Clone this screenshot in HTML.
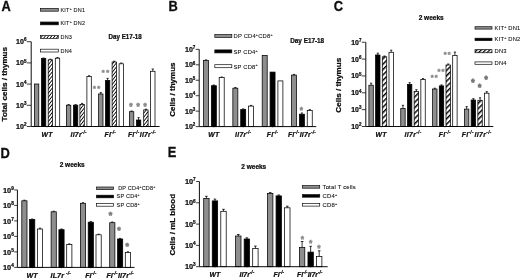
<!DOCTYPE html>
<html><head><meta charset="utf-8"><title>Figure</title>
<style>
html,body{margin:0;padding:0;background:#fff;}
body{width:520px;height:278px;overflow:hidden;}
svg{display:block;font-family:"Liberation Sans",sans-serif;fill:#0d0d0d;}
text.b{font-weight:bold;stroke:#0d0d0d;stroke-width:0.24px;}
text.r{stroke:#0d0d0d;stroke-width:0.08px;}
text.L{font-weight:bold;stroke:#0d0d0d;stroke-width:0.3px;}
text.s{font-weight:bold;}
</style></head><body>
<svg width="520" height="278" viewBox="0 0 520 278">
<defs>
<pattern id="hA" width="2.5" height="2.5" patternUnits="userSpaceOnUse" patternTransform="rotate(-52)"><rect width="2.5" height="2.5" fill="#fff"/><rect width="2.5" height="0.85" fill="#000"/></pattern>
<pattern id="hC" width="3.8" height="3.8" patternUnits="userSpaceOnUse" patternTransform="rotate(-45)"><rect width="3.8" height="3.8" fill="#fff"/><rect width="3.8" height="1.45" fill="#000"/></pattern>
<pattern id="hCl" width="3.0" height="3.0" patternUnits="userSpaceOnUse" patternTransform="rotate(-45)"><rect width="3.0" height="3.0" fill="#fff"/><rect width="3.0" height="1.3" fill="#000"/></pattern>
<filter id="bl" x="0" y="0" width="520" height="278" filterUnits="userSpaceOnUse"><feGaussianBlur stdDeviation="0.27"/></filter>
</defs>
<rect width="520" height="278" fill="#fff"/>
<g filter="url(#bl)">
<rect width="520" height="278" fill="#fff"/>

<text class="L" transform="translate(1.50 10.80) scale(0.875 1)" font-size="14.7">A</text>
<text class="b" transform="translate(4.20 84.20) rotate(-90)" text-anchor="middle" font-size="8.1" y="2.92">Total cells / thymus</text>
<rect x="34.40" y="84.00" width="4.40" height="42.50" fill="#8e8e8e" stroke="#000" stroke-width="0.75"/>
<path d="M43.60 58.60V58.00M42.50 58.00H44.70" stroke="#000" stroke-width="0.8" fill="none"/>
<rect x="41.40" y="58.60" width="4.40" height="67.90" fill="#050505" stroke="#000" stroke-width="0.75"/>
<path d="M50.40 59.80V59.20M49.30 59.20H51.50" stroke="#000" stroke-width="0.8" fill="none"/>
<rect x="48.20" y="59.80" width="4.40" height="66.70" fill="url(#hA)" stroke="#000" stroke-width="0.75"/>
<path d="M57.50 58.20V57.50M56.40 57.50H58.60" stroke="#000" stroke-width="0.8" fill="none"/>
<rect x="55.30" y="58.20" width="4.40" height="68.30" fill="#fff" stroke="#000" stroke-width="0.75"/>
<path d="M47.02 126.50v1.2" stroke="#0d0d0d" stroke-width="0.6" opacity="0.5"/>
<path d="M68.60 105.20V104.60M67.50 104.60H69.70" stroke="#000" stroke-width="0.8" fill="none"/>
<rect x="66.40" y="105.20" width="4.40" height="21.30" fill="#8e8e8e" stroke="#000" stroke-width="0.75"/>
<path d="M75.60 105.20V104.60M74.50 104.60H76.70" stroke="#000" stroke-width="0.8" fill="none"/>
<rect x="73.40" y="105.20" width="4.40" height="21.30" fill="#050505" stroke="#000" stroke-width="0.75"/>
<path d="M82.10 104.40V103.40M81.00 103.40H83.20" stroke="#000" stroke-width="0.8" fill="none"/>
<rect x="79.90" y="104.40" width="4.40" height="22.10" fill="url(#hA)" stroke="#000" stroke-width="0.75"/>
<path d="M89.10 76.60V75.80M88.00 75.80H90.20" stroke="#000" stroke-width="0.8" fill="none"/>
<rect x="86.90" y="76.60" width="4.40" height="49.90" fill="#fff" stroke="#000" stroke-width="0.75"/>
<path d="M78.67 126.50v1.2" stroke="#0d0d0d" stroke-width="0.6" opacity="0.5"/>
<path d="M100.80 94.00V92.60M99.70 92.60H101.90" stroke="#000" stroke-width="0.8" fill="none"/>
<rect x="98.60" y="94.00" width="4.40" height="32.50" fill="#8e8e8e" stroke="#000" stroke-width="0.75"/>
<path d="M107.60 80.40V78.40M106.50 78.40H108.70" stroke="#000" stroke-width="0.8" fill="none"/>
<rect x="105.40" y="80.40" width="4.40" height="46.10" fill="#050505" stroke="#000" stroke-width="0.75"/>
<path d="M114.30 62.00V61.20M113.20 61.20H115.40" stroke="#000" stroke-width="0.8" fill="none"/>
<rect x="112.10" y="62.00" width="4.40" height="64.50" fill="url(#hA)" stroke="#000" stroke-width="0.75"/>
<path d="M121.30 63.80V63.00M120.20 63.00H122.40" stroke="#000" stroke-width="0.8" fill="none"/>
<rect x="119.10" y="63.80" width="4.40" height="62.70" fill="#fff" stroke="#000" stroke-width="0.75"/>
<path d="M110.32 126.50v1.2" stroke="#0d0d0d" stroke-width="0.6" opacity="0.5"/>
<path d="M131.60 111.70V111.00M130.50 111.00H132.70" stroke="#000" stroke-width="0.8" fill="none"/>
<rect x="129.40" y="111.70" width="4.40" height="14.80" fill="#8e8e8e" stroke="#000" stroke-width="0.75"/>
<path d="M138.60 120.00V117.60M137.50 117.60H139.70" stroke="#000" stroke-width="0.8" fill="none"/>
<rect x="136.40" y="120.00" width="4.40" height="6.50" fill="#050505" stroke="#000" stroke-width="0.75"/>
<path d="M145.90 109.90V109.20M144.80 109.20H147.00" stroke="#000" stroke-width="0.8" fill="none"/>
<rect x="143.70" y="109.90" width="4.40" height="16.60" fill="url(#hA)" stroke="#000" stroke-width="0.75"/>
<path d="M152.80 71.30V69.00M151.70 69.00H153.90" stroke="#000" stroke-width="0.8" fill="none"/>
<rect x="150.60" y="71.30" width="4.40" height="55.20" fill="#fff" stroke="#000" stroke-width="0.75"/>
<path d="M141.97 126.50v1.2" stroke="#0d0d0d" stroke-width="0.6" opacity="0.5"/>
<path d="M31.20 41.70V126.50H159.60" stroke="#000" stroke-width="0.95" fill="none"/>
<path d="M26.80 126.50H31.20" stroke="#0d0d0d" stroke-width="0.8"/>
<text class="b" x="26.40" y="129.02" text-anchor="end" font-size="7.0">10<tspan font-size="4.48" dy="-2.80">2</tspan></text>
<path d="M26.80 105.30H31.20" stroke="#0d0d0d" stroke-width="0.8"/>
<text class="b" x="26.40" y="107.82" text-anchor="end" font-size="7.0">10<tspan font-size="4.48" dy="-2.80">3</tspan></text>
<path d="M26.80 84.10H31.20" stroke="#0d0d0d" stroke-width="0.8"/>
<text class="b" x="26.40" y="86.62" text-anchor="end" font-size="7.0">10<tspan font-size="4.48" dy="-2.80">4</tspan></text>
<path d="M26.80 62.90H31.20" stroke="#0d0d0d" stroke-width="0.8"/>
<text class="b" x="26.40" y="65.42" text-anchor="end" font-size="7.0">10<tspan font-size="4.48" dy="-2.80">5</tspan></text>
<path d="M26.80 41.70H31.20" stroke="#0d0d0d" stroke-width="0.8"/>
<text class="b" x="26.40" y="44.22" text-anchor="end" font-size="7.0">10<tspan font-size="4.48" dy="-2.80">6</tspan></text>
<text class="s" x="94.40" y="91.15" text-anchor="middle" font-size="7.5" fill="#8a8a8a" stroke="#8a8a8a" stroke-width="0.45">*</text>
<text class="s" x="98.70" y="91.15" text-anchor="middle" font-size="7.5" fill="#8a8a8a" stroke="#8a8a8a" stroke-width="0.45">*</text>
<text class="s" x="103.30" y="74.65" text-anchor="middle" font-size="7.5" fill="#8a8a8a" stroke="#8a8a8a" stroke-width="0.45">*</text>
<text class="s" x="107.60" y="74.65" text-anchor="middle" font-size="7.5" fill="#8a8a8a" stroke="#8a8a8a" stroke-width="0.45">*</text>
<text class="s" x="130.80" y="108.55" text-anchor="middle" font-size="8.3" fill="#8a8a8a" stroke="#8a8a8a" stroke-width="0.6">*</text>
<text class="s" x="138.00" y="108.55" text-anchor="middle" font-size="8.3" fill="#8a8a8a" stroke="#8a8a8a" stroke-width="0.6">*</text>
<text class="s" x="145.10" y="108.55" text-anchor="middle" font-size="8.3" fill="#8a8a8a" stroke="#8a8a8a" stroke-width="0.6">*</text>
<rect x="40.50" y="8.40" width="17.80" height="2.80" fill="#8e8e8e" stroke="#0d0d0d" stroke-width="0.7"/>
<text class="r" x="60.50" y="11.78" font-size="5.5" letter-spacing="0.2">KIT<tspan font-size="3.41" dy="-2.09">+</tspan><tspan dy="2.09" font-size="5.5"> DN1</tspan></text>
<rect x="40.50" y="22.00" width="17.80" height="2.80" fill="#050505" stroke="#0d0d0d" stroke-width="0.7"/>
<text class="r" x="60.50" y="25.38" font-size="5.5" letter-spacing="0.2">KIT<tspan font-size="3.41" dy="-2.09">+</tspan><tspan dy="2.09" font-size="5.5"> DN2</tspan></text>
<rect x="40.50" y="35.60" width="17.80" height="2.80" fill="url(#hA)" stroke="#0d0d0d" stroke-width="0.7"/>
<text class="r" x="60.50" y="38.98" font-size="5.5" letter-spacing="0.2">DN3</text>
<rect x="40.50" y="49.20" width="17.80" height="2.80" fill="#fff" stroke="#0d0d0d" stroke-width="0.7"/>
<text class="r" x="60.50" y="52.58" font-size="5.5" letter-spacing="0.2">DN4</text>
<text class="b" transform="translate(108.60 38.68) scale(0.9 1)" font-size="6.9">Day E17-18</text>
<text class="b" x="47.02" y="137.20" text-anchor="middle" font-style="italic" font-size="6.8" letter-spacing="0.25">WT</text>
<text class="b" x="78.67" y="137.20" text-anchor="middle" font-style="italic" font-size="6.8" letter-spacing="0.25">Il7r<tspan font-size="4.49" dy="-2.72">-/-</tspan></text>
<text class="b" x="110.32" y="137.20" text-anchor="middle" font-style="italic" font-size="6.8" letter-spacing="0.25">Fl<tspan font-size="4.49" dy="-2.72">-/-</tspan></text>
<text class="b" x="141.97" y="137.20" text-anchor="middle" font-style="italic" font-size="6.8" letter-spacing="0.25">Fl<tspan font-size="4.49" dy="-2.72">-/-</tspan><tspan dy="2.72" dx="0.3">Il7r</tspan><tspan font-size="4.49" dy="-2.72">-/-</tspan></text>
<text class="L" transform="translate(168.50 10.80) scale(0.875 1)" font-size="14.7">B</text>
<text class="b" transform="translate(172.00 89.60) rotate(-90)" text-anchor="middle" font-size="8.0" y="2.88">Cells / thymus</text>
<path d="M206.00 60.50V59.90M204.90 59.90H207.10" stroke="#000" stroke-width="0.8" fill="none"/>
<rect x="203.50" y="60.50" width="5.00" height="66.10" fill="#8e8e8e" stroke="#000" stroke-width="0.75"/>
<path d="M213.85 85.70V85.00M212.75 85.00H214.95" stroke="#000" stroke-width="0.8" fill="none"/>
<rect x="211.35" y="85.70" width="5.00" height="40.90" fill="#050505" stroke="#000" stroke-width="0.75"/>
<path d="M221.70 77.60V77.00M220.60 77.00H222.80" stroke="#000" stroke-width="0.8" fill="none"/>
<rect x="219.20" y="77.60" width="5.00" height="49.00" fill="#fff" stroke="#000" stroke-width="0.75"/>
<path d="M213.85 126.60v1.2" stroke="#0d0d0d" stroke-width="0.6" opacity="0.5"/>
<path d="M235.35 88.20V87.50M234.25 87.50H236.45" stroke="#000" stroke-width="0.8" fill="none"/>
<rect x="232.85" y="88.20" width="5.00" height="38.40" fill="#8e8e8e" stroke="#000" stroke-width="0.75"/>
<path d="M243.20 109.60V108.90M242.10 108.90H244.30" stroke="#000" stroke-width="0.8" fill="none"/>
<rect x="240.70" y="109.60" width="5.00" height="17.00" fill="#050505" stroke="#000" stroke-width="0.75"/>
<path d="M251.05 106.10V105.40M249.95 105.40H252.15" stroke="#000" stroke-width="0.8" fill="none"/>
<rect x="248.55" y="106.10" width="5.00" height="20.50" fill="#fff" stroke="#000" stroke-width="0.75"/>
<path d="M243.20 126.60v1.2" stroke="#0d0d0d" stroke-width="0.6" opacity="0.5"/>
<rect x="262.20" y="55.40" width="5.00" height="71.20" fill="#8e8e8e" stroke="#000" stroke-width="0.75"/>
<rect x="270.05" y="72.10" width="5.00" height="54.50" fill="#050505" stroke="#000" stroke-width="0.75"/>
<rect x="277.90" y="80.90" width="5.00" height="45.70" fill="#fff" stroke="#000" stroke-width="0.75"/>
<path d="M272.55 126.60v1.2" stroke="#0d0d0d" stroke-width="0.6" opacity="0.5"/>
<path d="M294.05 75.10V74.40M292.95 74.40H295.15" stroke="#000" stroke-width="0.8" fill="none"/>
<rect x="291.55" y="75.10" width="5.00" height="51.50" fill="#8e8e8e" stroke="#000" stroke-width="0.75"/>
<path d="M301.90 114.20V113.00M300.80 113.00H303.00" stroke="#000" stroke-width="0.8" fill="none"/>
<rect x="299.40" y="114.20" width="5.00" height="12.40" fill="#050505" stroke="#000" stroke-width="0.75"/>
<path d="M309.75 110.40V109.60M308.65 109.60H310.85" stroke="#000" stroke-width="0.8" fill="none"/>
<rect x="307.25" y="110.40" width="5.00" height="16.20" fill="#fff" stroke="#000" stroke-width="0.75"/>
<path d="M301.90 126.60v1.2" stroke="#0d0d0d" stroke-width="0.6" opacity="0.5"/>
<path d="M199.20 49.35V126.60H316.25" stroke="#000" stroke-width="0.95" fill="none"/>
<path d="M195.70 126.60H199.20" stroke="#0d0d0d" stroke-width="0.8"/>
<text class="b" x="195.30" y="129.12" text-anchor="end" font-size="7.0">10<tspan font-size="4.48" dy="-2.80">2</tspan></text>
<path d="M195.70 111.15H199.20" stroke="#0d0d0d" stroke-width="0.8"/>
<text class="b" x="195.30" y="113.67" text-anchor="end" font-size="7.0">10<tspan font-size="4.48" dy="-2.80">3</tspan></text>
<path d="M195.70 95.70H199.20" stroke="#0d0d0d" stroke-width="0.8"/>
<text class="b" x="195.30" y="98.22" text-anchor="end" font-size="7.0">10<tspan font-size="4.48" dy="-2.80">4</tspan></text>
<path d="M195.70 80.25H199.20" stroke="#0d0d0d" stroke-width="0.8"/>
<text class="b" x="195.30" y="82.77" text-anchor="end" font-size="7.0">10<tspan font-size="4.48" dy="-2.80">5</tspan></text>
<path d="M195.70 64.80H199.20" stroke="#0d0d0d" stroke-width="0.8"/>
<text class="b" x="195.30" y="67.32" text-anchor="end" font-size="7.0">10<tspan font-size="4.48" dy="-2.80">6</tspan></text>
<path d="M195.70 49.35H199.20" stroke="#0d0d0d" stroke-width="0.8"/>
<text class="b" x="195.30" y="51.87" text-anchor="end" font-size="7.0">10<tspan font-size="4.48" dy="-2.80">7</tspan></text>
<text class="s" x="301.30" y="113.30" text-anchor="middle" font-size="8.2" fill="#8a8a8a" stroke="#8a8a8a" stroke-width="0.55">*</text>
<rect x="214.80" y="34.50" width="17.00" height="3.00" fill="#8e8e8e" stroke="#0d0d0d" stroke-width="0.7"/>
<text class="r" x="233.50" y="38.39" font-size="5.8" letter-spacing="0.2">DP CD4<tspan font-size="3.60" dy="-2.20">+</tspan><tspan dy="2.20" font-size="5.8">CD8</tspan><tspan font-size="3.60" dy="-2.20">+</tspan><tspan dy="2.20" font-size="5.8"></tspan></text>
<rect x="214.80" y="49.90" width="17.00" height="3.00" fill="#050505" stroke="#0d0d0d" stroke-width="0.7"/>
<text class="r" x="233.50" y="53.79" font-size="5.8" letter-spacing="0.2">SP CD4<tspan font-size="3.60" dy="-2.20">+</tspan><tspan dy="2.20" font-size="5.8"></tspan></text>
<rect x="214.80" y="64.70" width="17.00" height="3.00" fill="#fff" stroke="#0d0d0d" stroke-width="0.7"/>
<text class="r" x="233.50" y="68.59" font-size="5.8" letter-spacing="0.2">SP CD8<tspan font-size="3.60" dy="-2.20">+</tspan><tspan dy="2.20" font-size="5.8"></tspan></text>
<text class="b" transform="translate(290.20 42.58) scale(0.925 1)" font-size="6.9">Day E17-18</text>
<text class="b" x="213.85" y="137.20" text-anchor="middle" font-style="italic" font-size="6.8" letter-spacing="0.25">WT</text>
<text class="b" x="243.20" y="137.20" text-anchor="middle" font-style="italic" font-size="6.8" letter-spacing="0.25">Il7r<tspan font-size="4.49" dy="-2.72">-/-</tspan></text>
<text class="b" x="272.55" y="137.20" text-anchor="middle" font-style="italic" font-size="6.8" letter-spacing="0.25">Fl<tspan font-size="4.49" dy="-2.72">-/-</tspan></text>
<text class="b" x="301.90" y="137.20" text-anchor="middle" font-style="italic" font-size="6.8" letter-spacing="0.25">Fl<tspan font-size="4.49" dy="-2.72">-/-</tspan><tspan dy="2.72" dx="0.3">Il7r</tspan><tspan font-size="4.49" dy="-2.72">-/-</tspan></text>
<text class="L" transform="translate(333.80 10.50) scale(0.875 1)" font-size="14.7">C</text>
<text class="b" transform="translate(338.50 85.20) rotate(-90)" text-anchor="middle" font-size="8.1" y="2.92">Cells / thymus</text>
<path d="M371.10 85.20V83.20M370.00 83.20H372.20" stroke="#000" stroke-width="0.8" fill="none"/>
<rect x="368.90" y="85.20" width="4.40" height="41.30" fill="#8e8e8e" stroke="#000" stroke-width="0.75"/>
<path d="M377.80 55.00V53.20M376.70 53.20H378.90" stroke="#000" stroke-width="0.8" fill="none"/>
<rect x="375.60" y="55.00" width="4.40" height="71.50" fill="#050505" stroke="#000" stroke-width="0.75"/>
<path d="M384.50 56.80V56.00M383.40 56.00H385.60" stroke="#000" stroke-width="0.8" fill="none"/>
<rect x="382.30" y="56.80" width="4.40" height="69.70" fill="url(#hC)" stroke="#000" stroke-width="0.75"/>
<path d="M391.20 52.30V50.20M390.10 50.20H392.30" stroke="#000" stroke-width="0.8" fill="none"/>
<rect x="389.00" y="52.30" width="4.40" height="74.20" fill="#fff" stroke="#000" stroke-width="0.75"/>
<path d="M381.15 126.50v1.2" stroke="#0d0d0d" stroke-width="0.6" opacity="0.5"/>
<path d="M402.95 108.60V105.30M401.85 105.30H404.05" stroke="#000" stroke-width="0.8" fill="none"/>
<rect x="400.75" y="108.60" width="4.40" height="17.90" fill="#8e8e8e" stroke="#000" stroke-width="0.75"/>
<path d="M409.65 84.40V82.70M408.55 82.70H410.75" stroke="#000" stroke-width="0.8" fill="none"/>
<rect x="407.45" y="84.40" width="4.40" height="42.10" fill="#050505" stroke="#000" stroke-width="0.75"/>
<path d="M416.35 91.50V89.70M415.25 89.70H417.45" stroke="#000" stroke-width="0.8" fill="none"/>
<rect x="414.15" y="91.50" width="4.40" height="35.00" fill="url(#hC)" stroke="#000" stroke-width="0.75"/>
<path d="M423.05 79.60V78.60M421.95 78.60H424.15" stroke="#000" stroke-width="0.8" fill="none"/>
<rect x="420.85" y="79.60" width="4.40" height="46.90" fill="#fff" stroke="#000" stroke-width="0.75"/>
<path d="M413.00 126.50v1.2" stroke="#0d0d0d" stroke-width="0.6" opacity="0.5"/>
<path d="M434.80 89.00V88.20M433.70 88.20H435.90" stroke="#000" stroke-width="0.8" fill="none"/>
<rect x="432.60" y="89.00" width="4.40" height="37.50" fill="#8e8e8e" stroke="#000" stroke-width="0.75"/>
<path d="M441.50 85.90V84.90M440.40 84.90H442.60" stroke="#000" stroke-width="0.8" fill="none"/>
<rect x="439.30" y="85.90" width="4.40" height="40.60" fill="#050505" stroke="#000" stroke-width="0.75"/>
<path d="M448.20 65.00V64.00M447.10 64.00H449.30" stroke="#000" stroke-width="0.8" fill="none"/>
<rect x="446.00" y="65.00" width="4.40" height="61.50" fill="url(#hC)" stroke="#000" stroke-width="0.75"/>
<path d="M454.90 55.40V52.10M453.80 52.10H456.00" stroke="#000" stroke-width="0.8" fill="none"/>
<rect x="452.70" y="55.40" width="4.40" height="71.10" fill="#fff" stroke="#000" stroke-width="0.75"/>
<path d="M444.85 126.50v1.2" stroke="#0d0d0d" stroke-width="0.6" opacity="0.5"/>
<path d="M466.65 109.10V106.60M465.55 106.60H467.75" stroke="#000" stroke-width="0.8" fill="none"/>
<rect x="464.45" y="109.10" width="4.40" height="17.40" fill="#8e8e8e" stroke="#000" stroke-width="0.75"/>
<path d="M473.35 100.00V98.70M472.25 98.70H474.45" stroke="#000" stroke-width="0.8" fill="none"/>
<rect x="471.15" y="100.00" width="4.40" height="26.50" fill="#050505" stroke="#000" stroke-width="0.75"/>
<path d="M480.05 100.30V97.80M478.95 97.80H481.15" stroke="#000" stroke-width="0.8" fill="none"/>
<rect x="477.85" y="100.30" width="4.40" height="26.20" fill="url(#hC)" stroke="#000" stroke-width="0.75"/>
<path d="M486.75 93.20V91.70M485.65 91.70H487.85" stroke="#000" stroke-width="0.8" fill="none"/>
<rect x="484.55" y="93.20" width="4.40" height="33.30" fill="#fff" stroke="#000" stroke-width="0.75"/>
<path d="M476.70 126.50v1.2" stroke="#0d0d0d" stroke-width="0.6" opacity="0.5"/>
<path d="M365.80 42.25V126.50H493.30" stroke="#000" stroke-width="0.95" fill="none"/>
<path d="M361.80 126.50H365.80" stroke="#0d0d0d" stroke-width="0.8"/>
<text class="b" x="361.40" y="128.98" text-anchor="end" font-size="6.9">10<tspan font-size="4.42" dy="-2.76">2</tspan></text>
<path d="M361.80 109.65H365.80" stroke="#0d0d0d" stroke-width="0.8"/>
<text class="b" x="361.40" y="112.13" text-anchor="end" font-size="6.9">10<tspan font-size="4.42" dy="-2.76">3</tspan></text>
<path d="M361.80 92.80H365.80" stroke="#0d0d0d" stroke-width="0.8"/>
<text class="b" x="361.40" y="95.28" text-anchor="end" font-size="6.9">10<tspan font-size="4.42" dy="-2.76">4</tspan></text>
<path d="M361.80 75.95H365.80" stroke="#0d0d0d" stroke-width="0.8"/>
<text class="b" x="361.40" y="78.43" text-anchor="end" font-size="6.9">10<tspan font-size="4.42" dy="-2.76">5</tspan></text>
<path d="M361.80 59.10H365.80" stroke="#0d0d0d" stroke-width="0.8"/>
<text class="b" x="361.40" y="61.58" text-anchor="end" font-size="6.9">10<tspan font-size="4.42" dy="-2.76">6</tspan></text>
<path d="M361.80 42.25H365.80" stroke="#0d0d0d" stroke-width="0.8"/>
<text class="b" x="361.40" y="44.73" text-anchor="end" font-size="6.9">10<tspan font-size="4.42" dy="-2.76">7</tspan></text>
<text class="s" x="432.20" y="80.15" text-anchor="middle" font-size="7.5" fill="#8a8a8a" stroke="#8a8a8a" stroke-width="0.45">*</text>
<text class="s" x="436.20" y="80.15" text-anchor="middle" font-size="7.5" fill="#8a8a8a" stroke="#8a8a8a" stroke-width="0.45">*</text>
<text class="s" x="439.00" y="73.75" text-anchor="middle" font-size="7.5" fill="#8a8a8a" stroke="#8a8a8a" stroke-width="0.45">*</text>
<text class="s" x="443.00" y="73.75" text-anchor="middle" font-size="7.5" fill="#8a8a8a" stroke="#8a8a8a" stroke-width="0.45">*</text>
<text class="s" x="445.30" y="56.65" text-anchor="middle" font-size="7.5" fill="#8a8a8a" stroke="#8a8a8a" stroke-width="0.45">*</text>
<text class="s" x="449.30" y="56.65" text-anchor="middle" font-size="7.5" fill="#8a8a8a" stroke="#8a8a8a" stroke-width="0.45">*</text>
<text class="s" x="473.00" y="85.20" text-anchor="middle" font-size="8.4" fill="#787878" stroke="#787878" stroke-width="0.8">*</text>
<text class="s" x="479.70" y="90.10" text-anchor="middle" font-size="8.4" fill="#787878" stroke="#787878" stroke-width="0.8">*</text>
<text class="s" x="486.20" y="82.30" text-anchor="middle" font-size="8.4" fill="#787878" stroke="#787878" stroke-width="0.8">*</text>
<rect x="475.00" y="26.70" width="17.00" height="2.40" fill="#8e8e8e" stroke="#0d0d0d" stroke-width="0.7"/>
<text class="r" x="494.50" y="29.99" font-size="5.8" letter-spacing="0.2">KIT<tspan font-size="3.60" dy="-2.20">+</tspan><tspan dy="2.20" font-size="5.8"> DN1</tspan></text>
<rect x="475.00" y="38.20" width="17.00" height="2.40" fill="#050505" stroke="#0d0d0d" stroke-width="0.7"/>
<text class="r" x="494.50" y="41.49" font-size="5.8" letter-spacing="0.2">KIT<tspan font-size="3.60" dy="-2.20">+</tspan><tspan dy="2.20" font-size="5.8"> DN2</tspan></text>
<rect x="475.00" y="49.65" width="17.00" height="3.10" fill="url(#hCl)" stroke="#0d0d0d" stroke-width="0.7"/>
<text class="r" x="494.50" y="53.29" font-size="5.8" letter-spacing="0.2">DN3</text>
<rect x="475.00" y="61.90" width="17.00" height="2.40" fill="#fff" stroke="#0d0d0d" stroke-width="0.7"/>
<text class="r" x="494.50" y="65.19" font-size="5.8" letter-spacing="0.2">DN4</text>
<text class="b" transform="translate(418.70 19.74) scale(1.0 1)" font-size="6.5">2 weeks</text>
<text class="b" x="381.15" y="137.20" text-anchor="middle" font-style="italic" font-size="6.8" letter-spacing="0.4">WT</text>
<text class="b" x="413.00" y="137.20" text-anchor="middle" font-style="italic" font-size="6.8" letter-spacing="0.4">Il7r<tspan font-size="4.49" dy="-2.72">-/-</tspan></text>
<text class="b" x="444.85" y="137.20" text-anchor="middle" font-style="italic" font-size="6.8" letter-spacing="0.4">Fl<tspan font-size="4.49" dy="-2.72">-/-</tspan></text>
<text class="b" x="476.70" y="137.20" text-anchor="middle" font-style="italic" font-size="6.8" letter-spacing="0.4">Fl<tspan font-size="4.49" dy="-2.72">-/-</tspan><tspan dy="2.72" dx="0.6">Il7r</tspan><tspan font-size="4.49" dy="-2.72">-/-</tspan></text>
<text class="L" transform="translate(0.50 157.70) scale(0.875 1)" font-size="14.7">D</text>
<path d="M24.40 200.80V200.20M23.30 200.20H25.50" stroke="#000" stroke-width="0.8" fill="none"/>
<rect x="21.80" y="200.80" width="5.20" height="66.60" fill="#8e8e8e" stroke="#000" stroke-width="0.75"/>
<path d="M32.20 219.60V219.00M31.10 219.00H33.30" stroke="#000" stroke-width="0.8" fill="none"/>
<rect x="29.60" y="219.60" width="5.20" height="47.80" fill="#050505" stroke="#000" stroke-width="0.75"/>
<path d="M40.00 229.00V228.20M38.90 228.20H41.10" stroke="#000" stroke-width="0.8" fill="none"/>
<rect x="37.40" y="229.00" width="5.20" height="38.40" fill="#fff" stroke="#000" stroke-width="0.75"/>
<path d="M32.20 267.40v1.2" stroke="#0d0d0d" stroke-width="0.6" opacity="0.5"/>
<path d="M53.70 211.80V211.20M52.60 211.20H54.80" stroke="#000" stroke-width="0.8" fill="none"/>
<rect x="51.10" y="211.80" width="5.20" height="55.60" fill="#8e8e8e" stroke="#000" stroke-width="0.75"/>
<path d="M61.50 229.70V229.00M60.40 229.00H62.60" stroke="#000" stroke-width="0.8" fill="none"/>
<rect x="58.90" y="229.70" width="5.20" height="37.70" fill="#050505" stroke="#000" stroke-width="0.75"/>
<path d="M69.30 244.60V243.90M68.20 243.90H70.40" stroke="#000" stroke-width="0.8" fill="none"/>
<rect x="66.70" y="244.60" width="5.20" height="22.80" fill="#fff" stroke="#000" stroke-width="0.75"/>
<path d="M61.50 267.40v1.2" stroke="#0d0d0d" stroke-width="0.6" opacity="0.5"/>
<path d="M83.00 203.30V202.70M81.90 202.70H84.10" stroke="#000" stroke-width="0.8" fill="none"/>
<rect x="80.40" y="203.30" width="5.20" height="64.10" fill="#8e8e8e" stroke="#000" stroke-width="0.75"/>
<path d="M90.80 222.20V221.60M89.70 221.60H91.90" stroke="#000" stroke-width="0.8" fill="none"/>
<rect x="88.20" y="222.20" width="5.20" height="45.20" fill="#050505" stroke="#000" stroke-width="0.75"/>
<path d="M98.60 234.80V234.20M97.50 234.20H99.70" stroke="#000" stroke-width="0.8" fill="none"/>
<rect x="96.00" y="234.80" width="5.20" height="32.60" fill="#fff" stroke="#000" stroke-width="0.75"/>
<path d="M90.80 267.40v1.2" stroke="#0d0d0d" stroke-width="0.6" opacity="0.5"/>
<path d="M112.30 222.70V222.00M111.20 222.00H113.40" stroke="#000" stroke-width="0.8" fill="none"/>
<rect x="109.70" y="222.70" width="5.20" height="44.70" fill="#8e8e8e" stroke="#000" stroke-width="0.75"/>
<path d="M120.10 239.00V238.40M119.00 238.40H121.20" stroke="#000" stroke-width="0.8" fill="none"/>
<rect x="117.50" y="239.00" width="5.20" height="28.40" fill="#050505" stroke="#000" stroke-width="0.75"/>
<path d="M127.90 252.40V251.80M126.80 251.80H129.00" stroke="#000" stroke-width="0.8" fill="none"/>
<rect x="125.30" y="252.40" width="5.20" height="15.00" fill="#fff" stroke="#000" stroke-width="0.75"/>
<path d="M120.10 267.40v1.2" stroke="#0d0d0d" stroke-width="0.6" opacity="0.5"/>
<path d="M17.40 189.90V267.40H134.50" stroke="#000" stroke-width="0.95" fill="none"/>
<path d="M14.20 267.40H17.40" stroke="#0d0d0d" stroke-width="0.8"/>
<text class="b" x="13.80" y="270.06" text-anchor="end" font-size="7.4">10<tspan font-size="4.74" dy="-2.96">4</tspan></text>
<path d="M14.20 251.90H17.40" stroke="#0d0d0d" stroke-width="0.8"/>
<text class="b" x="13.80" y="254.56" text-anchor="end" font-size="7.4">10<tspan font-size="4.74" dy="-2.96">5</tspan></text>
<path d="M14.20 236.40H17.40" stroke="#0d0d0d" stroke-width="0.8"/>
<text class="b" x="13.80" y="239.06" text-anchor="end" font-size="7.4">10<tspan font-size="4.74" dy="-2.96">6</tspan></text>
<path d="M14.20 220.90H17.40" stroke="#0d0d0d" stroke-width="0.8"/>
<text class="b" x="13.80" y="223.56" text-anchor="end" font-size="7.4">10<tspan font-size="4.74" dy="-2.96">7</tspan></text>
<path d="M14.20 205.40H17.40" stroke="#0d0d0d" stroke-width="0.8"/>
<text class="b" x="13.80" y="208.06" text-anchor="end" font-size="7.4">10<tspan font-size="4.74" dy="-2.96">8</tspan></text>
<path d="M14.20 189.90H17.40" stroke="#0d0d0d" stroke-width="0.8"/>
<text class="b" x="13.80" y="192.56" text-anchor="end" font-size="7.4">10<tspan font-size="4.74" dy="-2.96">9</tspan></text>
<text class="s" x="110.50" y="217.60" text-anchor="middle" font-size="8.8" fill="#808080" stroke="#808080" stroke-width="0.7">*</text>
<text class="s" x="118.90" y="233.40" text-anchor="middle" font-size="8.8" fill="#808080" stroke="#808080" stroke-width="0.7">*</text>
<text class="s" x="127.30" y="248.70" text-anchor="middle" font-size="8.8" fill="#808080" stroke="#808080" stroke-width="0.7">*</text>
<rect x="96.60" y="187.00" width="17.00" height="2.60" fill="#8e8e8e" stroke="#0d0d0d" stroke-width="0.7"/>
<text class="r" x="118.20" y="190.28" font-size="5.5" letter-spacing="0.2">DP CD4<tspan font-size="3.41" dy="-2.09">+</tspan><tspan dy="2.09" font-size="5.5">CD8</tspan><tspan font-size="3.41" dy="-2.09">+</tspan><tspan dy="2.09" font-size="5.5"></tspan></text>
<rect x="96.60" y="195.20" width="17.00" height="2.60" fill="#050505" stroke="#0d0d0d" stroke-width="0.7"/>
<text class="r" x="116.60" y="198.48" font-size="5.5" letter-spacing="0.2">SP CD4<tspan font-size="3.41" dy="-2.09">+</tspan><tspan dy="2.09" font-size="5.5"></tspan></text>
<rect x="96.60" y="203.60" width="17.00" height="2.60" fill="#fff" stroke="#0d0d0d" stroke-width="0.7"/>
<text class="r" x="116.60" y="206.88" font-size="5.5" letter-spacing="0.2">SP CD8<tspan font-size="3.41" dy="-2.09">+</tspan><tspan dy="2.09" font-size="5.5"></tspan></text>
<text class="b" transform="translate(59.70 167.34) scale(1.0 1)" font-size="6.5">2 weeks</text>
<text class="b" x="32.20" y="277.90" text-anchor="middle" font-style="italic" font-size="7.1" letter-spacing="0.1">WT</text>
<text class="b" x="60.70" y="277.90" text-anchor="middle" font-style="italic" font-size="7.1" letter-spacing="0.1">IL7r <tspan font-size="4.69" dy="-2.84">-/-</tspan></text>
<text class="b" x="90.80" y="277.90" text-anchor="middle" font-style="italic" font-size="7.1" letter-spacing="0.1">Fl<tspan font-size="4.69" dy="-2.84">-/-</tspan></text>
<text class="b" x="120.10" y="277.90" text-anchor="middle" font-style="italic" font-size="7.1" letter-spacing="0.1">Fl<tspan font-size="4.69" dy="-2.84">-/-</tspan><tspan dy="2.84" dx="0.3">Il7r</tspan><tspan font-size="4.69" dy="-2.84">-/-</tspan></text>
<text class="L" transform="translate(167.70 157.00) scale(0.875 1)" font-size="14.7">E</text>
<text class="b" transform="translate(172.20 224.80) rotate(-90)" text-anchor="middle" font-size="8.0" y="2.88">Cells / mL blood</text>
<path d="M206.40 198.40V196.30M205.10 196.30H207.70" stroke="#000" stroke-width="0.8" fill="none"/>
<rect x="203.70" y="198.40" width="5.40" height="68.30" fill="#8e8e8e" stroke="#000" stroke-width="0.75"/>
<path d="M214.95 200.90V199.10M213.65 199.10H216.25" stroke="#000" stroke-width="0.8" fill="none"/>
<rect x="212.25" y="200.90" width="5.40" height="65.80" fill="#050505" stroke="#000" stroke-width="0.75"/>
<path d="M223.50 211.30V209.30M222.20 209.30H224.80" stroke="#000" stroke-width="0.8" fill="none"/>
<rect x="220.80" y="211.30" width="5.40" height="55.40" fill="#fff" stroke="#000" stroke-width="0.75"/>
<path d="M214.95 266.70v1.2" stroke="#0d0d0d" stroke-width="0.6" opacity="0.5"/>
<path d="M238.30 236.00V234.50M237.00 234.50H239.60" stroke="#000" stroke-width="0.8" fill="none"/>
<rect x="235.60" y="236.00" width="5.40" height="30.70" fill="#8e8e8e" stroke="#000" stroke-width="0.75"/>
<path d="M246.85 239.00V237.80M245.55 237.80H248.15" stroke="#000" stroke-width="0.8" fill="none"/>
<rect x="244.15" y="239.00" width="5.40" height="27.70" fill="#050505" stroke="#000" stroke-width="0.75"/>
<path d="M255.40 248.40V246.10M254.10 246.10H256.70" stroke="#000" stroke-width="0.8" fill="none"/>
<rect x="252.70" y="248.40" width="5.40" height="18.30" fill="#fff" stroke="#000" stroke-width="0.75"/>
<path d="M246.85 266.70v1.2" stroke="#0d0d0d" stroke-width="0.6" opacity="0.5"/>
<path d="M270.20 193.40V192.60M268.90 192.60H271.50" stroke="#000" stroke-width="0.8" fill="none"/>
<rect x="267.50" y="193.40" width="5.40" height="73.30" fill="#8e8e8e" stroke="#000" stroke-width="0.75"/>
<path d="M278.75 195.90V195.00M277.45 195.00H280.05" stroke="#000" stroke-width="0.8" fill="none"/>
<rect x="276.05" y="195.90" width="5.40" height="70.80" fill="#050505" stroke="#000" stroke-width="0.75"/>
<path d="M287.30 207.80V206.20M286.00 206.20H288.60" stroke="#000" stroke-width="0.8" fill="none"/>
<rect x="284.60" y="207.80" width="5.40" height="58.90" fill="#fff" stroke="#000" stroke-width="0.75"/>
<path d="M278.75 266.70v1.2" stroke="#0d0d0d" stroke-width="0.6" opacity="0.5"/>
<path d="M302.10 247.50V241.50M300.80 241.50H303.40" stroke="#000" stroke-width="0.8" fill="none"/>
<rect x="299.40" y="247.50" width="5.40" height="19.20" fill="#8e8e8e" stroke="#000" stroke-width="0.75"/>
<path d="M310.65 252.10V246.30M309.35 246.30H311.95" stroke="#000" stroke-width="0.8" fill="none"/>
<rect x="307.95" y="252.10" width="5.40" height="14.60" fill="#050505" stroke="#000" stroke-width="0.75"/>
<path d="M319.20 256.60V250.80M317.90 250.80H320.50" stroke="#000" stroke-width="0.8" fill="none"/>
<rect x="316.50" y="256.60" width="5.40" height="10.10" fill="#fff" stroke="#000" stroke-width="0.75"/>
<path d="M310.65 266.70v1.2" stroke="#0d0d0d" stroke-width="0.6" opacity="0.5"/>
<path d="M199.40 181.50V266.70H327.70" stroke="#000" stroke-width="0.95" fill="none"/>
<path d="M196.10 266.70H199.40" stroke="#0d0d0d" stroke-width="0.8"/>
<text class="b" x="195.70" y="269.33" text-anchor="end" font-size="7.3">10<tspan font-size="4.67" dy="-2.92">3</tspan></text>
<path d="M196.10 245.40H199.40" stroke="#0d0d0d" stroke-width="0.8"/>
<text class="b" x="195.70" y="248.03" text-anchor="end" font-size="7.3">10<tspan font-size="4.67" dy="-2.92">4</tspan></text>
<path d="M196.10 224.10H199.40" stroke="#0d0d0d" stroke-width="0.8"/>
<text class="b" x="195.70" y="226.73" text-anchor="end" font-size="7.3">10<tspan font-size="4.67" dy="-2.92">5</tspan></text>
<path d="M196.10 202.80H199.40" stroke="#0d0d0d" stroke-width="0.8"/>
<text class="b" x="195.70" y="205.43" text-anchor="end" font-size="7.3">10<tspan font-size="4.67" dy="-2.92">6</tspan></text>
<path d="M196.10 181.50H199.40" stroke="#0d0d0d" stroke-width="0.8"/>
<text class="b" x="195.70" y="184.13" text-anchor="end" font-size="7.3">10<tspan font-size="4.67" dy="-2.92">7</tspan></text>
<text class="s" x="302.30" y="242.45" text-anchor="middle" font-size="8.5" fill="#8a8a8a" stroke="#8a8a8a" stroke-width="0.45">*</text>
<text class="s" x="310.60" y="245.75" text-anchor="middle" font-size="8.5" fill="#8a8a8a" stroke="#8a8a8a" stroke-width="0.45">*</text>
<text class="s" x="318.90" y="251.25" text-anchor="middle" font-size="8.5" fill="#8a8a8a" stroke="#8a8a8a" stroke-width="0.45">*</text>
<rect x="302.50" y="185.60" width="17.20" height="2.60" fill="#8e8e8e" stroke="#0d0d0d" stroke-width="0.7"/>
<text class="r" x="322.50" y="189.02" font-size="5.9" letter-spacing="0.2">Total T cells</text>
<rect x="302.50" y="194.60" width="17.20" height="2.60" fill="#050505" stroke="#0d0d0d" stroke-width="0.7"/>
<text class="r" x="322.50" y="198.02" font-size="5.9" letter-spacing="0.2">CD4<tspan font-size="3.66" dy="-2.24">+</tspan><tspan dy="2.24" font-size="5.9"></tspan></text>
<rect x="302.50" y="203.50" width="17.20" height="2.60" fill="#fff" stroke="#0d0d0d" stroke-width="0.7"/>
<text class="r" x="322.50" y="206.92" font-size="5.9" letter-spacing="0.2">CD8<tspan font-size="3.66" dy="-2.24">+</tspan><tspan dy="2.24" font-size="5.9"></tspan></text>
<text class="b" transform="translate(241.30 168.54) scale(1.0 1)" font-size="6.5">2 weeks</text>
<text class="b" x="214.95" y="276.60" text-anchor="middle" font-style="italic" font-size="6.9" letter-spacing="0">WT</text>
<text class="b" x="246.85" y="276.60" text-anchor="middle" font-style="italic" font-size="6.9" letter-spacing="0">Il7r<tspan font-size="4.55" dy="-2.76">-/-</tspan></text>
<text class="b" x="278.75" y="276.60" text-anchor="middle" font-style="italic" font-size="6.9" letter-spacing="0">Fl<tspan font-size="4.55" dy="-2.76">-/-</tspan></text>
<text class="b" x="309.65" y="276.60" text-anchor="middle" font-style="italic" font-size="6.9" letter-spacing="0">Fl<tspan font-size="4.55" dy="-2.76">-/-</tspan><tspan dy="2.76" dx="0.2">Il7r</tspan><tspan font-size="4.55" dy="-2.76">-/-</tspan></text>
</g>
</svg>
</body></html>
